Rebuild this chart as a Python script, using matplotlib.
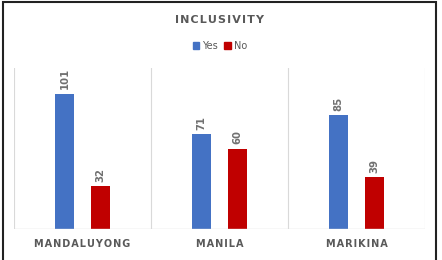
import matplotlib
matplotlib.use("Agg")
import matplotlib.pyplot as plt
import numpy as np
from matplotlib.patches import Rectangle, Patch

cities = ["MANDALUYONG", "MANILA", "MARIKINA"]
yes_vals = [101, 71, 85]
no_vals = [32, 60, 39]

blue = "#4472C4"
red = "#C00000"
grey = "#595959"
sp = "\u200a"  # hair space for letter spacing


def spaced(s):
    return sp.join(s)


plt.rcParams['font.family'] = ['DejaVu Sans']

fig = plt.figure(figsize=(4.42, 2.6), dpi=100)
ax = fig.add_axes([0.0317, 0.119, 0.9298, 0.619])

x = np.arange(len(cities))
w = 0.14
b1 = ax.bar(x - 0.13, yes_vals, w, color=blue, label="Yes")
b2 = ax.bar(x + 0.13, no_vals, w, color=red, label="No")

for bars in (b1, b2):
    for r in bars:
        ax.annotate(str(int(r.get_height())), (r.get_x() + r.get_width() / 2, r.get_height()),
                    xytext=(0, 3), textcoords="offset points", rotation=90,
                    ha="center", va="bottom", fontsize=7.3, fontweight="bold", color="#707070")

ax.set_xlim(-0.5, 2.5)
ax.set_ylim(0, 120)
for xv in [-0.5, 0.5, 1.5, 2.5]:
    ax.axvline(xv, color="#D9D9D9", lw=0.8)
for s in ax.spines.values():
    s.set_visible(False)
ax.axhline(0, color="#D9D9D9", lw=1)
ax.set_yticks([])
ax.set_xticks(x)
ax.set_xticklabels([spaced(c) for c in cities], fontsize=7, fontweight="bold", color=grey)
ax.tick_params(axis="x", length=0, pad=7)

fig.text(0.497, 0.922, spaced("INCLUSIVITY"), ha="center", va="center",
         fontsize=8, fontweight="bold", color=grey)

handles = [Patch(color=blue, label="Yes"), Patch(color=red, label="No")]
fig.legend(handles=handles, loc="center", bbox_to_anchor=(0.497, 0.823), ncol=2, frameon=False,
           fontsize=7, labelcolor=grey, handlelength=0.7, handleheight=0.7,
           handletextpad=0.3, columnspacing=0.6)

# outer frame
fig.patches.append(Rectangle((0.0068, -0.05), 0.9796, 1.042, transform=fig.transFigure,
                             fill=False, edgecolor="#222222", lw=1.5))

fig.savefig("out.png", dpi=100)
